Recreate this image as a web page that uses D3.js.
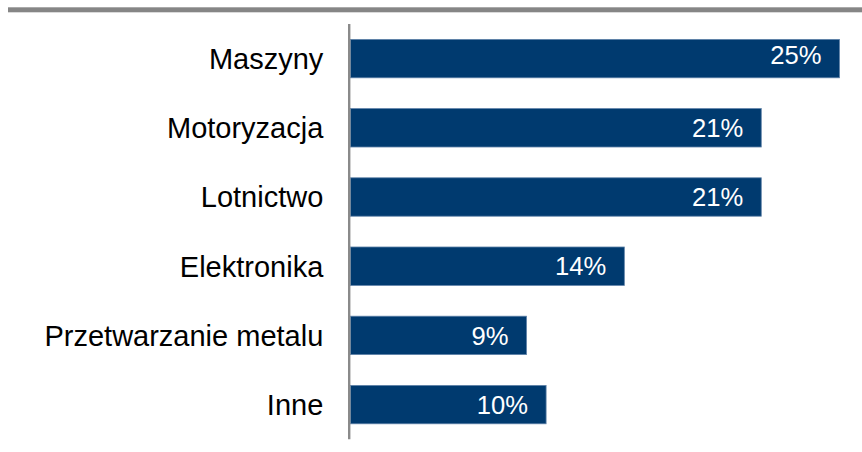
<!DOCTYPE html>
<html>
<head>
<meta charset="utf-8">
<script src="https://cdn.jsdelivr.net/npm/d3@7"></script>
<style>
  html, body { margin: 0; padding: 0; background: #ffffff; }
  svg { display: block; }
  text { font-family: "Liberation Sans", Arial, sans-serif; }
</style>
</head>
<body>
<svg id="chart" width="862" height="452"></svg>
<script>
const categories = ["Maszyny", "Motoryzacja", "Lotnictwo", "Elektronika", "Przetwarzanie metalu", "Inne"];
const values = [25, 21, 21, 14, 9, 10];
const valueLabels = ["25%", "21%", "21%", "14%", "9%", "10%"];

const svg = d3.select("#chart");
const W = 862, H = 452;

// top rule
svg.append("rect")
  .attr("x", 8).attr("y", 7.3)
  .attr("width", W - 8).attr("height", 5)
  .attr("fill", "#868686");

const x = d3.scaleLinear().domain([0, 25]).range([350.5, 839.5]);
const y = d3.scaleBand().domain(categories).range([24, 439.2])
  .paddingInner(0.445).paddingOuter(0.2225);

const data = categories.map((c, i) => ({ c, v: values[i], l: valueLabels[i] }));

svg.selectAll("rect.bar").data(data).enter().append("rect")
  .attr("class", "bar")
  .attr("x", x(0))
  .attr("y", d => y(d.c))
  .attr("width", d => x(d.v) - x(0))
  .attr("height", y.bandwidth())
  .attr("fill", "#003a6f")
  .attr("stroke", "#5f82a8")
  .attr("stroke-width", 0.8);

// value labels
svg.selectAll("text.val").data(data).enter().append("text")
  .attr("class", "val")
  .attr("x", d => x(d.v) - 18)
  .attr("y", (d, i) => y(d.c) + y.bandwidth() / 2 + 9.2 - (i === 0 ? 4 : 0))
  .attr("text-anchor", "end")
  .attr("fill", "#ffffff")
  .attr("font-size", 25.6)
  .text(d => d.l);

// category labels
svg.selectAll("text.cat").data(data).enter().append("text")
  .attr("class", "cat")
  .attr("x", 323.3)
  .attr("y", d => y(d.c) + y.bandwidth() / 2 + 10.4)
  .attr("text-anchor", "end")
  .attr("fill", "#000000")
  .attr("font-size", 29)
  .text(d => d.c);

// vertical axis line
svg.append("line")
  .attr("x1", 349.2).attr("x2", 349.2)
  .attr("y1", y.range()[0]).attr("y2", y.range()[1])
  .attr("stroke", "#8a8a8a")
  .attr("stroke-width", 2.4);
</script>
</body>
</html>
